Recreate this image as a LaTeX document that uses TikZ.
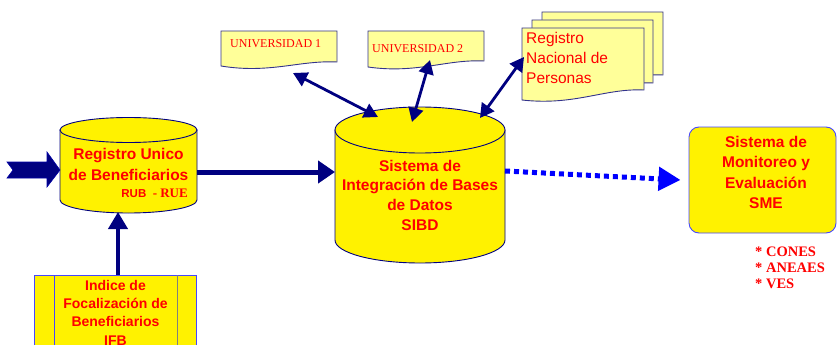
\documentclass[tikz,border=0pt]{standalone}
\usepackage{fontspec}
\setmainfont{Liberation Sans}
\newfontfamily\timesf{Liberation Serif}
\usetikzlibrary{arrows.meta,calc}
\definecolor{navy}{RGB}{0,0,128}
\definecolor{docyellow}{RGB}{255,255,153}
\definecolor{edgeblue}{RGB}{51,51,140}
\definecolor{txtred}{RGB}{255,0,0}
\definecolor{boxblue}{RGB}{70,70,255}
\definecolor{puroblue}{RGB}{0,0,255}
\begin{document}
\begin{tikzpicture}[x=1pt,y=-1pt,
  cyl/.style={fill=yellow, draw=navy, line width=0.9pt},
  doc/.style={fill=docyellow, draw=edgeblue, line width=0.9pt},
  lbl/.style={text=txtred, font=\bfseries\fontsize{15.5}{20.5}\selectfont, align=center, inner sep=0pt, anchor=north},
  doctext/.style={text=txtred, inner sep=0pt},
  mainarrow/.style={draw=navy, line width=5pt, -{Triangle[length=17pt,width=22pt]}},
  uparrow/.style={draw=navy, line width=4pt, -{Triangle[length=17pt,width=19pt]}},
  biarrow/.style={draw=navy, line width=2.8pt, {Triangle[length=14pt,width=15pt]}-{Triangle[length=14pt,width=15pt]}},
  dotarrow/.style={draw=puroblue, line width=5pt, dash pattern=on 5pt off 4pt, -{Triangle[length=22pt,width=23pt]}},
  fatarrow/.style={fill=navy, draw=navy!70!blue, line width=0.6pt}
]
\useasboundingbox (0,0) rectangle (838,345);
\clip (0,0) rectangle (838,345);

% ---- RUB cylinder ----
\path[cyl] (60,130) -- (60,200) arc[start angle=180, end angle=0, x radius=68.5, y radius=13] -- (197,130) -- cycle;
\path[cyl] (128.5,130) ellipse[x radius=68.5, y radius=12.5];
\node[lbl, font=\bfseries\fontsize{15.5}{21}\selectfont] (rub) at (128.5,147.7) {Registro Unico\\de Beneficiarios};
\node[text=txtred, inner sep=0pt, anchor=base east] (rubsub) at (188,197)
  {\bfseries\fontsize{11.5}{13}\selectfont RUB {\timesf\fontsize{13}{15}\selectfont\ - RUE}};
\coordinate (rubW) at (60,170);
\coordinate (rubE) at (197,172);
\coordinate (rubS) at (118,212);

% ---- SIBD cylinder ----
\path[cyl] (335,130) -- (335,240) arc[start angle=180, end angle=0, x radius=85, y radius=23] -- (505,130) -- cycle;
\path[cyl] (420,130) ellipse[x radius=85, y radius=23];
\node[lbl, font=\bfseries\fontsize{15.5}{19.7}\selectfont] (sibd) at (420,159.7) {Sistema de\\Integración de Bases\\de Datos\\SIBD};
\coordinate (sibdW) at (335,172);
\coordinate (sibdE) at (505,171);
\coordinate (sibdA) at (378,117);
\coordinate (sibdB) at (412,122);
\coordinate (sibdC) at (480,118);

% ---- SME box ----
\node[draw=boxblue, fill=yellow, rounded corners=10pt, line width=0.9pt,
      minimum width=147pt, minimum height=106pt, inner sep=0pt] (sme) at (762.5,180) {};
\node[lbl] (smetext) at (766,135.7) {Sistema de\\Monitoreo y\\Evaluación\\SME};
\node[text=txtred, inner sep=0pt, anchor=north west, align=left,
      font=\timesf\bfseries\fontsize{14.5}{16}\selectfont] (cones) at (755,247) {* CONES\\* ANEAES\\* VES};

% ---- IFB box ----
\path[fill=yellow, draw=boxblue, line width=0.9pt] (34,275) rectangle (196,360);
\draw[boxblue, line width=0.9pt] (54,275) -- (54,360);
\draw[gray, line width=0.9pt] (177,275) -- (177,360);
\node[lbl, font=\bfseries\fontsize{14}{18.3}\selectfont] (ifbtext) at (115.5,279.8) {Indice de\\Focalización de\\Beneficiarios\\IFB};
\coordinate (ifbN) at (118,275);

% ---- documents ----
\path[doc] (221,31) -- (337,31) -- (337,62) .. controls (300,60) and (270,74) .. (221,66) -- cycle;
\node[doctext, anchor=base west, font=\timesf\fontsize{12}{14}\selectfont] (u1) at (230,48) {UNIVERSIDAD 1};
\coordinate (u1p) at (293,73);

\path[doc] (368,31) -- (484,31) -- (484,61) .. controls (447,59) and (417,74) .. (368,67) -- cycle;
\node[doctext, anchor=base west, font=\timesf\fontsize{12}{14}\selectfont] (u2) at (372,53) {UNIVERSIDAD 2};
\coordinate (u2p) at (430,60);

\path[doc] (542,12) -- (663,12) -- (663,75) .. controls (630,73) and (600,88) .. (542,85) -- cycle;
\path[doc] (532,20) -- (653,20) -- (653,83) .. controls (620,81) and (590,96) .. (532,93) -- cycle;
\path[doc] (522,28) -- (644,28) -- (644,90) .. controls (605,88) and (575,106) .. (522,100) -- cycle;
\node[doctext, anchor=north west, align=left, font=\fontsize{15.5}{20}\selectfont] (rnp) at (526,31.9) {Registro\\Nacional de\\Personas};
\coordinate (rnpp) at (524,57);

% ---- connectors ----
\path[fatarrow] ($(rubW)+(-53,-8)$) -- ($(rubW)+(-13,-8)$) -- ($(rubW)+(-13,-18)$) -- (rubW)
   -- ($(rubW)+(-13,17)$) -- ($(rubW)+(-13,8)$) -- ($(rubW)+(-53,8)$) -- ($(rubW)+(-47,0)$) -- cycle;
\draw[mainarrow] (rubE) -- (sibdW);
\draw[uparrow] (ifbN) -- (rubS);
\draw[dotarrow] (sibdE) -- ([xshift=-8pt]sme.west);
\draw[biarrow] (u1p) -- (sibdA);
\draw[biarrow] (u2p) -- (sibdB);
\draw[biarrow] (rnpp) -- (sibdC);
\end{tikzpicture}
\end{document}
